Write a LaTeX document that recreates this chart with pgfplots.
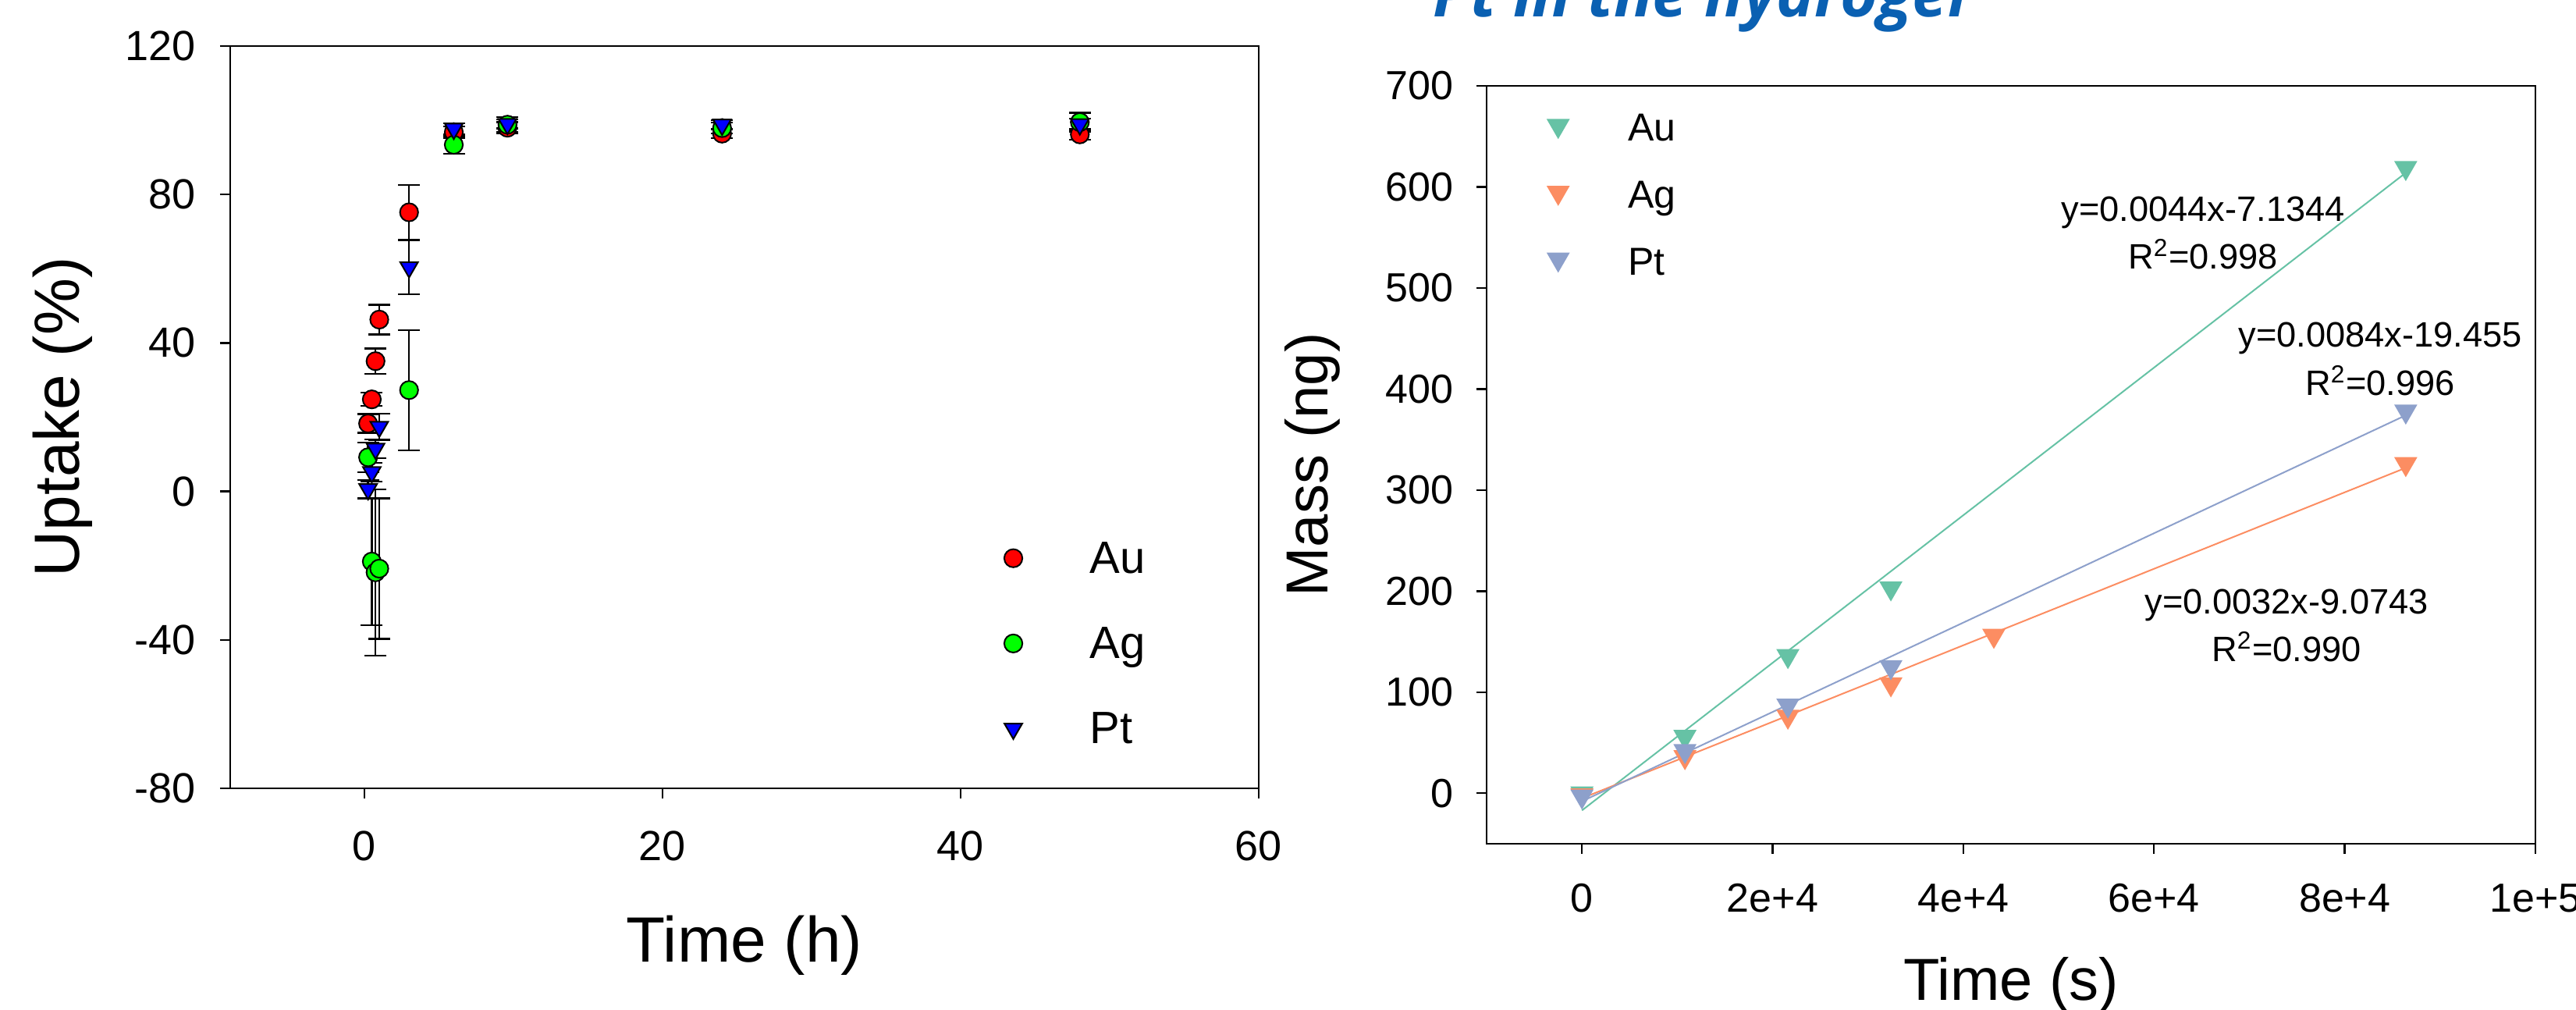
\documentclass[border=0pt]{standalone}
\usepackage{fontspec}
\setmainfont{Liberation Sans}
\newfontfamily\titlefont{Open Sans}
\usepackage{pgfplots}
\usepackage{pgfplotstable}
\pgfplotsset{compat=1.18}

\definecolor{auL}{RGB}{255,0,0}
\definecolor{agL}{RGB}{0,255,0}
\definecolor{ptL}{RGB}{0,0,255}
\definecolor{auR}{RGB}{102,194,165}
\definecolor{agR}{RGB}{252,141,98}
\definecolor{ptR}{RGB}{141,160,203}
\definecolor{titleblue}{RGB}{10,96,178}

% uptake (%) against time (h), with error
\pgfplotstableread{
t    y     e
0.25 18.3  2.5
0.5  24.8  1.8
0.75 35.1  3.4
1    46.3  4.0
3    75.2  7.4
6    96.8  1.5
9.6  98.0  1.5
24   96.4  1.2
48   96.2  1.5
}\upAu
\pgfplotstableread{
t    y     e
0.25 9.2   4.0
0.5  -18.9 17.1
0.75 -21.8 22.4
1    -20.8 18.9
3    27.3  16.2
6    93.4  2.4
9.6  98.8  2.0
24   97.9  1.5
48   99.5  2.5
}\upAg
\pgfplotstableread{
t    y     e
0.25 0.6   2.5
0.5  5.2   2.5
0.75 11.5  2.5
1    17.4  3.5
3    60.4  7.3
6    97.7  1.5
9.6  99.0  1.2
24   98.8  1.2
48   98.9  1.5
}\upPt

% mass (ng) against time (s)
\pgfplotstableread{
t     m
0     0
10800 56
21600 136
32400 203
86400 619
}\massAu
\pgfplotstableread{
t     m
0     -2
10800 36
21600 76
32400 108
43200 156
86400 326
}\massAg
\pgfplotstableread{
t     m
0     -3
10800 42
21600 87
32400 125
86400 378
}\massPt

\pgfplotsset{
  panel/.style={
    scale only axis, anchor=south west,
    tick align=outside, xtick pos=bottom, ytick pos=left,
    major tick length=3.3pt,
    axis line style={line width=0.6pt},
    tick style={black, line width=0.6pt},
    /pgf/number format/assume math mode=true,
    ticklabel style={inner sep=0pt},
    xlabel style={anchor=center},
    ylabel style={anchor=center},
    legend cell align=left,
  },
  ebar/.style={
    error bars/.cd, y dir=both, y explicit,
    error bar style={black, line width=0.6pt},
    error mark options={black, rotate=90, mark size=3.5pt, line width=0.6pt},
  },
}

\begin{document}
\begin{tikzpicture}
\begin{axis}[panel,
  at={(73.75pt,71pt)}, width=329.5pt, height=237.75pt,
  xmin=-9, xmax=60, ymin=-80, ymax=120,
  xtick={0,20,40,60}, ytick={-80,-40,0,40,80,120},
  ticklabel style={font=\fontsize{13.5}{14}\selectfont},
  xticklabel shift=10.2pt, yticklabel shift=7.6pt,
  xlabel={Time (h)}, ylabel={Uptake (\%)},
  label style={font=\fontsize{20.5}{22}\selectfont},
  xlabel style={at={(rel axis cs:0.5,-0.212)}},
  ylabel style={at={(rel axis cs:-0.163,0.5)}},
  legend style={draw=none, fill=none, inner sep=0pt,
    at={(rel axis cs:0.752,0.335)}, anchor=north west,
    font=\fontsize{14.5}{15}\selectfont, row sep=13.8pt,
    nodes={inner sep=0pt, text height=10.5pt, text depth=3pt}},
  legend image code/.code={\draw[#1] plot coordinates {(0pt,1pt)};},
  /tikz/every odd column/.append style={column sep=21.6pt},
]
\addplot[only marks, mark=*, mark size=2.9pt,
  mark options={fill=auL, draw=black, line width=0.5pt}, ebar]
  table[x=t, y=y, y error=e] {\upAu};
\addplot[only marks, mark=*, mark size=2.9pt,
  mark options={fill=agL, draw=black, line width=0.5pt}, ebar]
  table[x=t, y=y, y error=e] {\upAg};
\addplot[only marks, mark=triangle*, mark size=3.3pt,
  mark options={rotate=180, fill=ptL, draw=black, line width=0.5pt}, ebar]
  table[x=t, y=y, y error=e] {\upPt};
\legend{Au, Ag, Pt}
\end{axis}

\node[anchor=base west, inner sep=0pt, text=titleblue,
  font=\titlefont\bfseries\itshape\fontsize{20.5}{21}\selectfont]
  at (459pt,318pt) {Pt in the hydrogel};

\begin{axis}[panel,
  at={(476.25pt,53.25pt)}, width=336pt, height=242.75pt,
  xmin=-10000, xmax=100000, ymin=-50, ymax=700,
  xtick={0,20000,40000,60000,80000,100000},
  xticklabels={0,2e+4,4e+4,6e+4,8e+4,1e+5},
  ytick={0,100,200,300,400,500,600,700},
  scaled x ticks=false,
  ticklabel style={font=\fontsize{13}{14}\selectfont},
  xticklabel shift=9.4pt, yticklabel shift=7.2pt,
  xlabel={Time (s)}, ylabel={Mass (ng)},
  label style={font=\fontsize{19}{20}\selectfont},
  xlabel style={at={(rel axis cs:0.5,-0.186)}},
  ylabel style={at={(rel axis cs:-0.166,0.5)}},
  legend style={draw=none, fill=none, inner sep=0pt,
    at={(rel axis cs:0.0576,0.965)}, anchor=north west,
    font=\fontsize{12.5}{13}\selectfont, row sep=9.7pt,
    nodes={inner sep=0pt, text height=9pt, text depth=2.7pt}},
  legend image code/.code={\draw[#1] plot coordinates {(0pt,1.8pt)};},
  /tikz/every odd column/.append style={column sep=19.1pt},
]
\addplot[auR, line width=0.5pt, forget plot] coordinates {(0,-17) (86400,614)};
\addplot[agR, line width=0.5pt, forget plot] coordinates {(0,-5) (86400,322)};
\addplot[ptR, line width=0.5pt, forget plot] coordinates {(0,-8) (86400,374)};
\addplot[only marks, mark=triangle*, mark size=3.9pt,
  mark options={rotate=180, fill=auR, draw=auR}] table[x=t, y=m] {\massAu};
\addplot[only marks, mark=triangle*, mark size=3.9pt,
  mark options={rotate=180, fill=agR, draw=agR}] table[x=t, y=m] {\massAg};
\addplot[only marks, mark=triangle*, mark size=3.9pt,
  mark options={rotate=180, fill=ptR, draw=ptR}] table[x=t, y=m] {\massPt};
\legend{Au, Ag, Pt}
\begin{scope}[font=\fontsize{11.3}{12}\selectfont]
\node at (axis cs:65133,574.9) {y=0.0044x-7.1344};
\node at (axis cs:65133,533.2) {R\textsuperscript{2}=0.998};
\node at (axis cs:83713,450.5) {y=0.0084x-19.455};
\node at (axis cs:83713,408) {R\textsuperscript{2}=0.996};
\node at (axis cs:73891,186.4) {y=0.0032x-9.0743};
\node at (axis cs:73891,144.7) {R\textsuperscript{2}=0.990};
\end{scope}
\end{axis}

\pgfresetboundingbox
\path[use as bounding box] (0,0) rectangle (825.25pt,323.5pt);
\end{tikzpicture}
\end{document}
